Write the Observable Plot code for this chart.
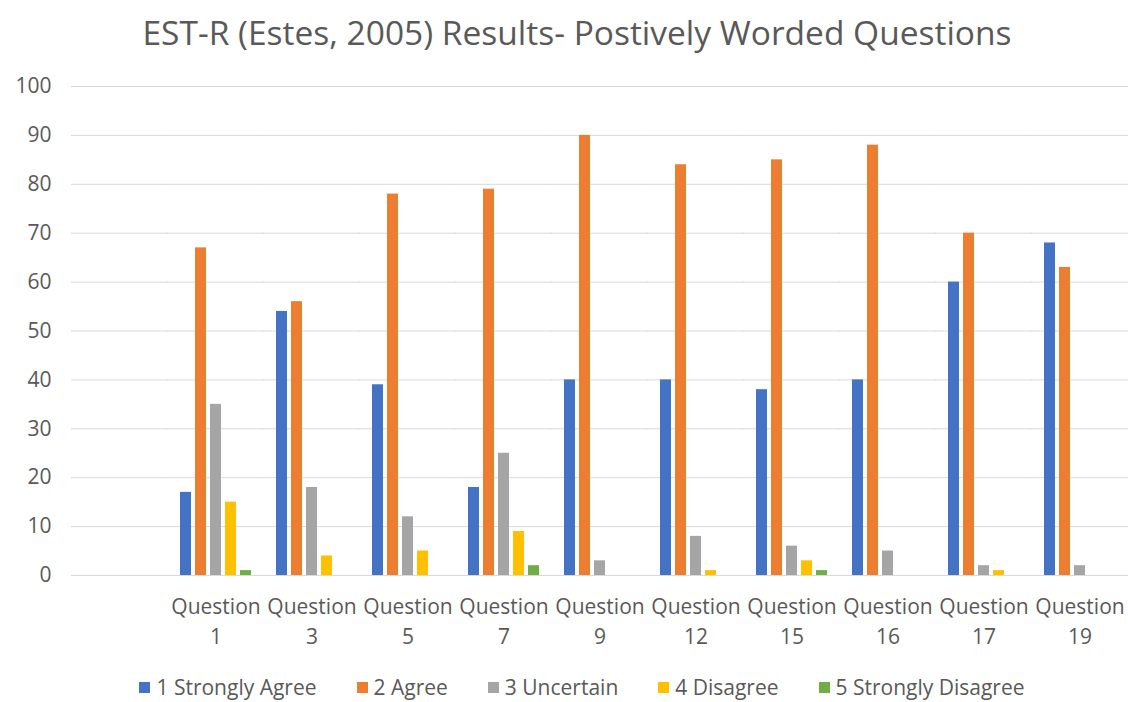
<!DOCTYPE html>
<html>
<head>
<meta charset="utf-8">
<script src="https://cdn.jsdelivr.net/npm/d3@7"></script>
<script src="https://cdn.jsdelivr.net/npm/@observablehq/plot@0.6"></script>
<style>
  html, body { margin: 0; padding: 0; background: #fff; }
  body { width: 1128px; height: 702px; overflow: hidden; font-family: "Open Sans", sans-serif; color: #595959; }
  #title { height: 64px; line-height: 64px; text-align: center; font-size: 33.5px; color: #595959; padding-left: 26px; white-space: nowrap; }
  #legend { display: flex; justify-content: center; gap: 40px; font-size: 21px; line-height: 29px; color: #595959; margin-top: 10px; padding-left: 36px; white-space: nowrap; }
  #legend .item { display: flex; align-items: center; gap: 6px; }
  #legend .sw { width: 11px; height: 11px; display: inline-block; }
</style>
</head>
<body>
<div id="title">EST-R (Estes, 2005) Results- Postively Worded Questions</div>
<div id="chart"></div>
<div id="legend"></div>
<script>
const questions = ["", "Question 1", "Question 3", "Question 5", "Question 7", "Question 9", "Question 12", "Question 15", "Question 16", "Question 17", "Question 19"];
const series = ["1 Strongly Agree", "2 Agree", "3 Uncertain", "4 Disagree", "5 Strongly Disagree"];
const colors = ["#4472C4", "#ED7D31", "#A5A5A5", "#FFC000", "#70AD47"];
const stronglyAgree    = [null, 17, 54, 39, 18, 40, 40, 38, 40, 60, 68];
const agree            = [null, 67, 56, 78, 79, 90, 84, 85, 88, 70, 63];
const uncertain        = [null, 35, 18, 12, 25, 3, 8, 6, 5, 2, 2];
const disagree         = [null, 15, 4, 5, 9, 0, 1, 3, 0, 1, 0];
const stronglyDisagree = [null, 1, 0, 0, 2, 0, 0, 1, 0, 0, 0];
const yTicks = [0, 10, 20, 30, 40, 50, 60, 70, 80, 90, 100];

const seriesValues = [stronglyAgree, agree, uncertain, disagree, stronglyDisagree];
const data = [];
questions.forEach((q, i) => {
  seriesValues.forEach((vals, s) => {
    data.push({question: q, series: series[s], value: vals[i]});
  });
});

const chart = Plot.plot({
  width: 1128,
  height: 599,
  marginTop: 22,
  marginLeft: 71,
  marginRight: 0,
  marginBottom: 88,
  style: {fontFamily: "'Open Sans', sans-serif", fontSize: "21px", color: "#595959", background: "#fff"},
  fx: {domain: questions, paddingInner: 0.24, paddingOuter: 0.12, label: null},
  x: {domain: series, paddingInner: 0.24, paddingOuter: 0, axis: null},
  y: {domain: [0, 100], label: null},
  color: {domain: series, range: colors},
  marks: [
    Plot.ruleY(yTicks, {stroke: "#d9d9d9", strokeWidth: 1, insetLeft: -12, insetRight: -12}),
    Plot.barY(data, {fx: "question", x: "series", y: "value", fill: "series"}),
    Plot.axisY(yTicks, {tickSize: 0, tickPadding: 32, fill: "#595959", fontSize: 21, label: null}),
    Plot.axisFx({anchor: "bottom", tickSize: 0, tickPadding: 17, fontSize: 21, fill: "#595959", lineHeight: 1.43, label: null,
      tickFormat: d => d === "" ? "" : d.replace(" ", "\n")})
  ]
});
document.getElementById("chart").appendChild(chart);

const legend = document.getElementById("legend");
series.forEach((s, i) => {
  const item = document.createElement("div");
  item.className = "item";
  item.innerHTML = `<span class="sw" style="background:${colors[i]}"></span><span>${s}</span>`;
  legend.appendChild(item);
});
</script>
</body>
</html>
